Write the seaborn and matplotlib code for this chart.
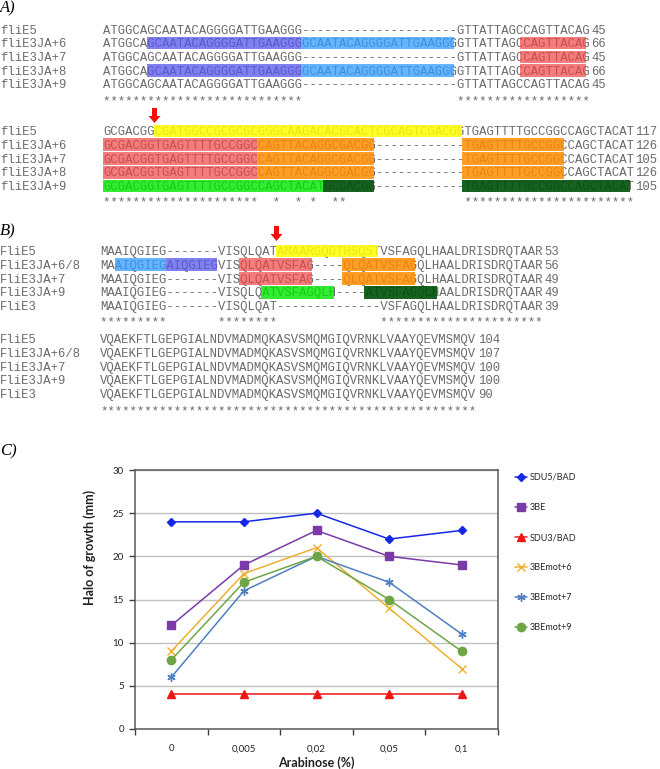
import numpy as np
import pandas as pd
import seaborn as sns
import matplotlib.pyplot as plt
from matplotlib.patches import Rectangle, FancyArrow

# ---------------- alignment data ----------------
A_names = ['fliE5', 'fliE3JA+6', 'fliE3JA+7', 'fliE3JA+8', 'fliE3JA+9']
A1_seqs = ['ATGGCAGCAATACAGGGGATTGAAGGG---------------------GTTATTAGCCAGTTACAG',
           'ATGGCAGCAATACAGGGGATTGAAGGGGCAATACAGGGGATTGAAGGGGTTATTAGCCAGTTACAG',
           'ATGGCAGCAATACAGGGGATTGAAGGG---------------------GTTATTAGCCAGTTACAG',
           'ATGGCAGCAATACAGGGGATTGAAGGGGCAATACAGGGGATTGAAGGGGTTATTAGCCAGTTACAG',
           'ATGGCAGCAATACAGGGGATTGAAGGG---------------------GTTATTAGCCAGTTACAG']
A1_nums = [45, 66, 45, 66, 45]
A1_stars = '***************************                     ******************'
A1_marks = [(1, 7, 27, 'purple'), (1, 28, 48, 'lblue'), (1, 58, 66, 'red'),
            (2, 58, 66, 'red'),
            (3, 7, 27, 'purple'), (3, 28, 48, 'lblue'), (3, 58, 66, 'red')]

A2_seqs = ['GCGACGGCGATGGCCGCGCGCGGGCAAGACACGCACTCGCAGTCGACGGTGAGTTTTGCCGGCCAGCTACAT',
           'GCGACGGTGAGTTTTGCCGGCCAGTTACAGGCGACGG------------TGAGTTTTGCCGGCCAGCTACAT',
           'GCGACGGTGAGTTTTGCCGGCCAGTTACAGGCGACGG------------TGAGTTTTGCCGGCCAGCTACAT',
           'GCGACGGTGAGTTTTGCCGGCCAGTTACAGGCGACGG------------TGAGTTTTGCCGGCCAGCTACAT',
           'GCGACGGTGAGTTTTGCCGGCCAGCTACATGCGACGG------------TGAGTTTTGCCGGCCAGCTACAT']
A2_nums = [117, 126, 105, 126, 105]
A2_stars = '*********************  *  * *  **                ***********************'
A2_marks = [(0, 8, 49, 'yellow'),
            (1, 1, 21, 'red'), (1, 22, 37, 'orange'), (1, 50, 63, 'orange'),
            (2, 1, 21, 'red'), (2, 22, 37, 'orange'), (2, 50, 63, 'orange'),
            (3, 1, 21, 'red'), (3, 22, 37, 'orange'), (3, 50, 63, 'orange'),
            (4, 1, 30, 'green'), (4, 31, 37, 'dgreen'), (4, 50, 72, 'dgreen')]

B_names = ['FliE5', 'FliE3JA+6/8', 'FliE3JA+7', 'FliE3JA+9', 'FliE3']
B1_seqs = ['MAAIQGIEG-------VISQLQATAMAARGQDTHSQSTVSFAGQLHAALDRISDRQTAAR',
           'MAAIQGIEGAIQGIEGVISQLQATVSFAG----QLQATVSFAGQLHAALDRISDRQTAAR',
           'MAAIQGIEG-------VISQLQATVSFAG----QLQATVSFAGQLHAALDRISDRQTAAR',
           'MAAIQGIEG-------VISQLQATVSFAGQLH----ATVSFAGQLHAALDRISDRQTAAR',
           'MAAIQGIEG-------VISQLQAT--------------VSFAGQLHAALDRISDRQTAAR']
B1_nums = [53, 56, 49, 49, 39]
B1_stars = '*********       ********              **********************'
B1_marks = [(0, 25, 38, 'yellow'),
            (1, 3, 9, 'lblue'), (1, 10, 16, 'purple'), (1, 20, 29, 'red'), (1, 34, 43, 'orange'),
            (2, 20, 29, 'red'), (2, 34, 43, 'orange'),
            (3, 23, 32, 'green'), (3, 37, 46, 'dgreen')]

B2_seqs = ['VQAEKFTLGEPGIALNDVMADMQKASVSMQMGIQVRNKLVAAYQEVMSMQV'] * 5
B2_nums = [104, 107, 100, 100, 90]
B2_stars = '***************************************************'

# ---------------- growth data ----------------
arabinose = ['0', '0,005', '0,02', '0,05', '0,1']
strains = ['SDU5/BAD', '3BE', 'SDU3/BAD', '3BEmot+6', '3BEmot+7', '3BEmot+9']
sdu5 = [24, 24, 25, 22, 23]
be3 = [12, 19, 23, 20, 19]
sdu3 = [4, 4, 4, 4, 4]
mot6 = [9, 18, 21, 14, 7]
mot7 = [6, 16, 20, 17, 11]
mot9 = [8, 17, 20, 15, 9]

colors = ['#1428E6', '#7A3AA8', '#F01414', '#EEB030', '#4F7FC0', '#6EA646']
markers = ['D', 's', '^', 'x', (6, 2, 0), 'o']

# highlight colours (colour, alpha) drawn over the text
hl = {'red': ('#EE4545', 0.7), 'orange': ('#FF8C00', 0.85), 'purple': ('#5555EB', 0.75),
      'lblue': ('#309BFF', 0.75), 'yellow': ('#FFFF00', 0.85), 'green': ('#00E600', 0.8),
      'dgreen': ('#00500A', 0.9)}

sns.set_style('white')
plt.rcParams['font.family'] = 'Lato'

fig = plt.figure(figsize=(6.6, 7.69), dpi=100)
tx = fig.add_axes([0, 0, 1, 1])
tx.set_xlim(0, 660)
tx.set_ylim(769, 0)
tx.axis('off')

cw = 7.32
mono = dict(family='Liberation Mono', fontsize=cw / 0.6 * 0.72, color='#6a6a6a', va='baseline')
row_h = 13.75
box_h = 12.6


def draw_block(names, seqs, nums, stars, y0, seq_x, marks):
    for i, (nm, sq, n) in enumerate(zip(names, seqs, nums)):
        y = y0 + i * row_h
        tx.text(0, y + 4.2, nm, **mono)
        tx.text(seq_x, y + 4.2, sq, **mono)
        tx.text(seq_x + (len(sq) + 0.7) * cw, y + 4.2, str(n), **mono)
    tx.text(seq_x, y0 + len(names) * row_h + 6.5, stars, **mono)
    for r, c0, c1, key in marks:
        col, a = hl[key]
        tx.add_patch(Rectangle((seq_x + (c0 - 1) * cw, y0 + r * row_h - box_h / 2),
                               (c1 - c0 + 1) * cw, box_h, color=col, alpha=a, lw=0, zorder=3))


draw_block(A_names, A1_seqs, A1_nums, A1_stars, 29.3, 103, A1_marks)
draw_block(A_names, A2_seqs, A2_nums, A2_stars, 131, 103, A2_marks)
draw_block(B_names, B1_seqs, B1_nums, B1_stars, 251, 100, B1_marks)
draw_block(B_names, B2_seqs, B2_nums, B2_stars, 339, 100, [])

lab = dict(family='Liberation Serif', style='italic', fontsize=12, va='center', color='black')
tx.text(0, 8, 'A)', **lab)
tx.text(0, 231, 'B)', **lab)
tx.text(0, 451, 'C)', **lab)

for ax_x, ay in [(154.5, 108), (276.5, 226)]:
    tx.add_patch(FancyArrow(ax_x, ay, 0, 15, width=5, head_width=12, head_length=7,
                            length_includes_head=True, color='#F01010', lw=0, zorder=4))

# ---------------- panel C ----------------
ax = fig.add_axes([135 / 660, 40 / 769, 363 / 660, 259 / 769])
df = pd.DataFrame({
    'Arabinose': arabinose * len(strains),
    'Halo': sdu5 + be3 + sdu3 + mot6 + mot7 + mot9,
    'Strain': [s for s in strains for _ in arabinose]})

sns.lineplot(data=df, x='Arabinose', y='Halo', hue='Strain', hue_order=strains,
             palette=colors, marker='o', sort=False, lw=1.1, markersize=6,
             legend=False, ax=ax)

for line, c, m in zip(ax.lines, colors, markers):
    line.set_marker(m)
    line.set_markeredgecolor(c)
    line.set_markerfacecolor(c)
    line.set_markeredgewidth(1.0)
    if m == 'D':
        line.set_markersize(4.5)

ax.set_xlim(-0.5, 4.5)
ax.set_ylim(0, 30)
ax.set_yticks(range(0, 31, 5))
ax.yaxis.grid(True, color='#C0C0C0', lw=1)
ax.set_xticks(np.arange(-0.5, 5, 1))
ax.set_xticklabels([])
ax.set_xticks(range(len(arabinose)), minor=True)
ax.set_xticklabels(arabinose, minor=True)
ax.tick_params(axis='x', which='major', direction='out', length=4, width=1, color='#404040', bottom=True)
ax.tick_params(axis='x', which='minor', length=0, pad=11, labelsize=7, labelcolor='#222222')
ax.tick_params(axis='y', direction='out', length=4, width=1, color='#404040', left=True,
               labelsize=7, labelcolor='#222222', pad=4)
for s in ax.spines.values():
    s.set_color('#595959')
    s.set_linewidth(1.1)

ax.set_xlabel('Arabinose (%)', fontsize=9, fontweight='bold', color='#222222')
ax.set_ylabel('Halo of growth (mm)', fontsize=9, fontweight='bold', color='#222222')
ax.xaxis.set_label_coords(0.5, -0.104)
ax.yaxis.set_label_coords(-0.107, 0.70)

ax.legend(ax.lines, strains, loc='upper left', bbox_to_anchor=(515 / 660, 1 - 473 / 769),
          bbox_transform=fig.transFigure, frameon=False, fontsize=6.5, labelspacing=2.33,
          handlelength=1.35, handletextpad=0.25, borderpad=0, borderaxespad=0)

fig.savefig('out.png', dpi=100)
